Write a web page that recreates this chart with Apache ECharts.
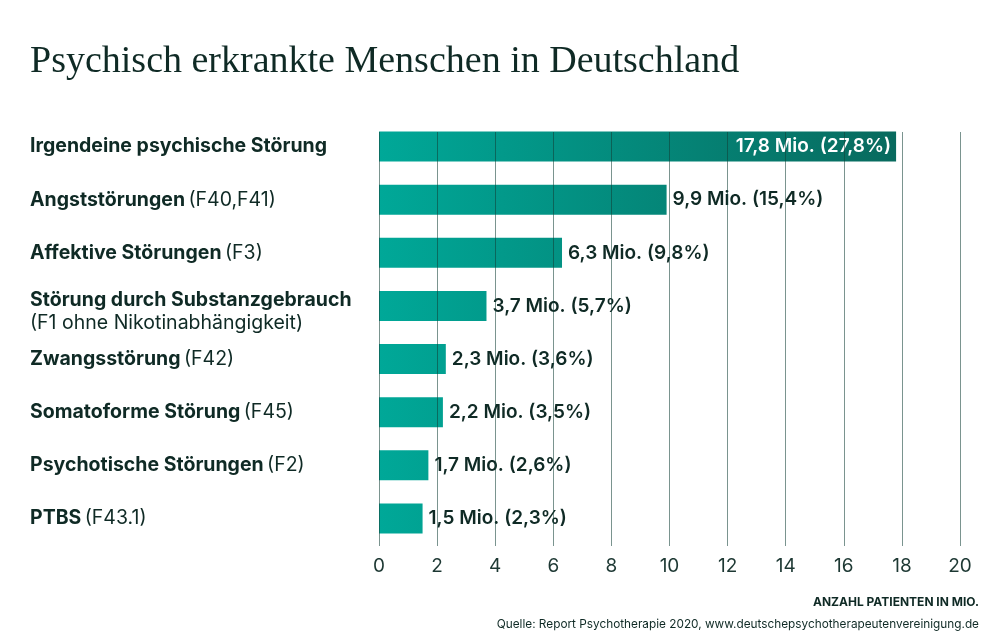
<!DOCTYPE html>
<html>
<head>
<meta charset="utf-8">
<script src="https://cdn.jsdelivr.net/npm/echarts@6/dist/echarts.min.js"></script>
<style>
html,body{margin:0;padding:0;background:#fff;}
#chart{width:1000px;height:635px;}
</style>
</head>
<body>
<div id="chart"></div>
<script>
const categories = [
  "Irgendeine psychische Störung",
  "Angststörungen",
  "Affektive Störungen",
  "Störung durch Substanzgebrauch",
  "Zwangsstörung",
  "Somatoforme Störung",
  "Psychotische Störungen",
  "PTBS"
];
const codes = ["", "(F40,F41)", "(F3)", "\n(F1 ohne Nikotinabhängigkeit)", "(F42)", "(F45)", "(F2)", "(F43.1)"];
const values = [17.8, 9.9, 6.3, 3.7, 2.3, 2.2, 1.7, 1.5];
const percents = [27.8, 15.4, 9.8, 5.7, 3.6, 3.5, 2.6, 2.3];
const xTicks = [0, 2, 4, 6, 8, 10, 12, 14, 16, 18, 20];

const fmt = v => v.toFixed(1).replace('.', ',');
const dark = '#0f2a25';
const font = 'Inter, sans-serif';

const chart = echarts.init(document.getElementById('chart'));
const option = {
  backgroundColor: '#fff',
  textStyle: { fontFamily: font },
  title: [
    { text: 'Psychisch erkrankte Menschen in Deutschland', left: 25, top: 38,
      textStyle: { fontFamily: '"Liberation Serif", serif', fontSize: 38, fontWeight: 'normal', color: dark } },
    { text: 'ANZAHL PATIENTEN IN MIO.', right: 16, top: 591,
      textStyle: { fontFamily: font, fontSize: 12, fontWeight: 'bold', color: dark } },
    { text: 'Quelle: Report Psychotherapie 2020, www.deutschepsychotherapeutenvereinigung.de', right: 16, top: 613,
      textStyle: { fontFamily: font, fontSize: 11.8, fontWeight: 'normal', color: dark } }
  ],
  grid: [
    { left: 379, right: 40, top: 120, bottom: 90, containLabel: false, outerBoundsMode: 'none' },
    { left: 379, right: 40, top: 132, bottom: 89, containLabel: false, outerBoundsMode: 'none' }
  ],
  xAxis: [{
    type: 'value', min: 0, max: 20, interval: 2, gridIndex: 0,
    axisLine: { show: false }, axisTick: { show: false },
    splitLine: { show: false },
    axisLabel: { fontSize: 19, color: '#1d3833', margin: 12, fontFamily: font }
  }, {
    type: 'value', min: 0, max: 20, interval: 2, gridIndex: 1, z: 10,
    axisLine: { show: false }, axisTick: { show: false }, axisLabel: { show: false },
    splitLine: { show: true, lineStyle: { color: 'rgba(18,64,55,0.56)', width: 1 } }
  }],
  yAxis: [{
    type: 'category', inverse: true, gridIndex: 0,
    data: categories,
    axisLine: { show: false }, axisTick: { show: false },
    axisLabel: {
      align: 'left', margin: 349,
      formatter: (v, i) => {
        const c = codes[i];
        if (!c) return '{b|' + v + '}';
        if (c.startsWith('\n')) return '{t|' + v + '}\n{n2|' + c.slice(1) + '}';
        return '{b|' + v + '} {n|' + c + '}';
      },
      rich: {
        b: { fontSize: 19.5, fontWeight: 'bold', color: dark, fontFamily: font, lineHeight: 26 },
        t: { fontSize: 19.5, fontWeight: 'bold', color: dark, fontFamily: font, lineHeight: 34, verticalAlign: 'bottom' },
        n: { fontSize: 19.5, fontWeight: 'normal', color: dark, fontFamily: font, lineHeight: 26 },
        n2: { fontSize: 19.5, fontWeight: 'normal', color: dark, fontFamily: font, lineHeight: 25 }
      }
    }
  }, {
    type: 'value', gridIndex: 1, min: 0, max: 1, show: false
  }],
  series: [{
    type: 'bar',
    xAxisIndex: 0, yAxisIndex: 0,
    barWidth: 30,
    data: values.map((v, i) => ({
      value: v,
      label: i === 0 ? { position: 'insideRight', color: '#fff', distance: 5 } : { position: 'right', color: dark, distance: 6 }
    })),
    itemStyle: {
      color: new echarts.graphic.LinearGradient(379, 0, 893, 0, [
        { offset: 0, color: '#00a898' },
        { offset: 1, color: '#086a5e' }
      ], true)
    },
    label: {
      show: true, fontSize: 19, fontWeight: 600, fontFamily: font,
      formatter: p => fmt(values[p.dataIndex]) + ' Mio. (' + fmt(percents[p.dataIndex]) + '%)'
    }
  }, {
    type: 'line', xAxisIndex: 1, yAxisIndex: 1, data: [], silent: true
  }]
};
chart.setOption(option);
</script>
</body>
</html>
